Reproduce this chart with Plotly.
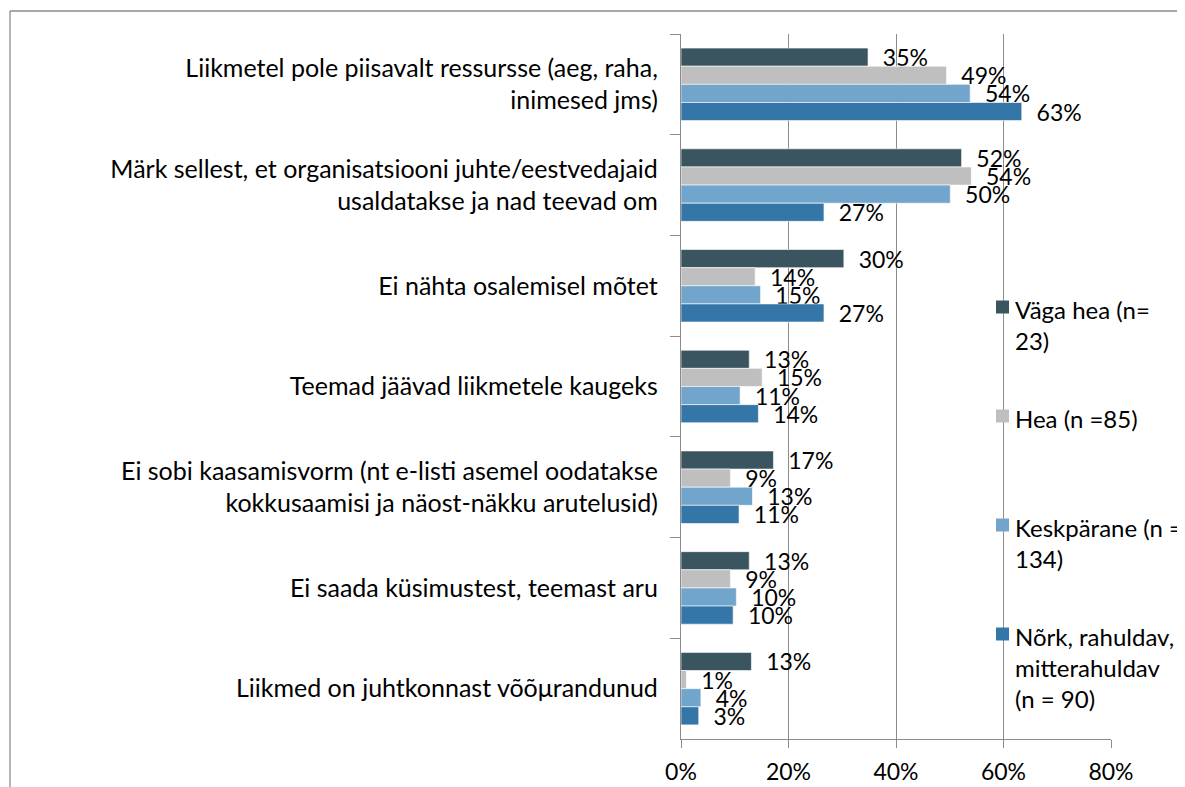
import plotly.graph_objects as go

categories = [
    "Liikmetel pole piisavalt ressursse (aeg, raha,<br>inimesed jms)",
    "Märk sellest, et organisatsiooni juhte/eestvedajaid<br>usaldatakse ja nad teevad om",
    "Ei nähta osalemisel mõtet",
    "Teemad jäävad liikmetele kaugeks",
    "Ei sobi kaasamisvorm (nt e-listi asemel oodatakse<br>kokkusaamisi ja näost-näkku arutelusid)",
    "Ei saada küsimustest, teemast aru",
    "Liikmed on juhtkonnast võõμrandunud",
]

series_names = ["Väga hea (n=<br>23)", "Hea (n =85)", "Keskpärane (n =<br>134)",
                "Nõrk, rahuldav,<br>mitterahuldav<br>(n = 90)"]

vaga_hea = [0.348, 0.522, 0.303, 0.127, 0.172, 0.127, 0.131]
hea = [0.494, 0.540, 0.138, 0.151, 0.092, 0.092, 0.010]
keskparane = [0.538, 0.501, 0.148, 0.110, 0.133, 0.103, 0.037]
nork = [0.634, 0.266, 0.266, 0.144, 0.108, 0.097, 0.033]

series_values = [vaga_hea, hea, keskparane, nork]
colors = ["#3A5460", "#BFBFBF", "#72A5CC", "#3476A8"]

tick_vals = [0, 0.2, 0.4, 0.6, 0.8]
tick_text = ["0%", "20%", "40%", "60%", "80%"]

FONT = "Lato"
FS = 25       # category text
FS_LEG = 24   # legend text
FS_NUM = 23   # numbers
OFF = 8       # page body margin
W, H = 1185, 787
L, R, T, B = 673, 82, 26, 56
PW, PH = W - L - R, H - T - B


def px_x(px):
    return (px - OFF - L) / PW


def px_y(py):
    return (H - B - (py - OFF)) / PH


fig = go.Figure()
for name, vals, col in zip(series_names, series_values, colors):
    fig.add_trace(go.Bar(
        y=categories, x=vals, orientation="h", name=name,
        marker=dict(color=col, line=dict(color="white", width=0.6)),
        texttemplate="\u00a0\u00a0%{x:.0%}", textposition="outside",
        constraintext="none", cliponaxis=False,
        textfont=dict(family=FONT, size=FS_NUM, color="black"),
        showlegend=False,
    ))

shapes = []
annotations = []
# outer border (left and top visible)
shapes.append(dict(type="line", xref="paper", yref="paper", x0=px_x(10), x1=px_x(10),
                   y0=px_y(820), y1=px_y(11), line=dict(color="#8C8C8C", width=1.3)))
shapes.append(dict(type="line", xref="paper", yref="paper", x0=px_x(10), x1=px_x(1220),
                   y0=px_y(11), y1=px_y(11), line=dict(color="#8C8C8C", width=1.3)))

# custom legend
leg_tops = [307, 416, 525, 634]
for name, col, yc in zip(series_names, colors, leg_tops):
    shapes.append(dict(type="rect", xref="paper", yref="paper",
                       x0=px_x(996), x1=px_x(1009), y0=px_y(yc - 6.5), y1=px_y(yc + 6.5),
                       fillcolor=col, line=dict(width=0)))
    annotations.append(dict(xref="paper", yref="paper", x=px_x(1013), y=px_y(yc - 14),
                            xanchor="left", yanchor="top", align="left", showarrow=False,
                            text=name, font=dict(family=FONT, size=FS_LEG, color="black")))

fig.update_layout(
    width=W, height=H,
    margin=dict(l=L, r=R, t=T, b=B, pad=0, autoexpand=False),
    paper_bgcolor="white", plot_bgcolor="white",
    barmode="group", bargap=0.28, bargroupgap=0,
    font=dict(family=FONT, size=FS, color="black"),
    shapes=shapes, annotations=annotations,
    xaxis=dict(range=[0, 0.8], tickvals=tick_vals, ticktext=tick_text, automargin=False,
               showgrid=True, gridcolor="#8C8C8C", gridwidth=1.3,
               showline=True, linecolor="#8C8C8C", linewidth=1.3,
               ticks="outside", ticklen=8, tickcolor="#8C8C8C", tickwidth=1.3,
               ticklabelstandoff=4,
               zeroline=False, tickfont=dict(family=FONT, size=FS_NUM), fixedrange=True),
    yaxis=dict(autorange="reversed", showline=True, linecolor="#8C8C8C", linewidth=1.3,
               automargin=False,
               ticks="outside", ticklen=10, tickcolor="#8C8C8C", tickwidth=1.3,
               tickson="boundaries", showgrid=False, ticklabelstandoff=17,
               tickfont=dict(family=FONT, size=FS), fixedrange=True),
)

fig.write_html("out.html")
